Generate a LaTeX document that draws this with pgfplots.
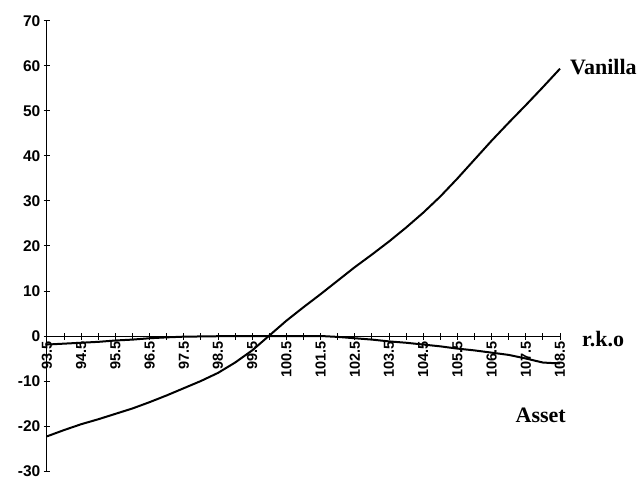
\documentclass[border=0pt]{standalone}
\usepackage{fontspec}
\setmainfont{Liberation Sans}
\newfontfamily\serf{Liberation Serif}
\usepackage{pgfplots}
\pgfplotsset{compat=1.18}
\begin{document}
\begin{tikzpicture}
\begin{axis}[
  name=ax, at={(0pt,0pt)}, anchor=south west,
  scale only axis, width=513pt, height=450pt,
  xmin=93.5, xmax=108.5, ymin=-30, ymax=70,
  axis x line=middle, axis y line=left,
  axis line style={-, line width=1pt},
  hide obscured x ticks=false, hide obscured y ticks=false,
  xtick={93.5,94.5,...,108.5}, minor xtick={94,95,...,108},
  ytick={-30,-20,...,70},
  tick align=center, major tick length=7pt, minor tick length=7pt,
  every tick/.style={black, line width=1pt},
  xticklabel style={rotate=90, anchor=east, font=\bfseries\fontsize{14.5}{15}\selectfont, inner sep=2pt},
  yticklabel style={font=\bfseries\fontsize{15.5}{16}\selectfont, inner sep=3pt},
  /pgf/number format/assume math mode=true,
  /pgf/number format/fixed, /pgf/number format/precision=1,
  clip=false,
]
\addplot[black, line width=2pt] coordinates {
(93.5,-22.3) (94,-20.9) (94.5,-19.6) (95,-18.5) (95.5,-17.3) (96,-16.1)
(96.5,-14.7) (97,-13.2) (97.5,-11.6) (98,-10.0) (98.5,-8.2) (99,-5.9)
(99.5,-3.2) (100,0.1) (100.5,3.4) (101,6.4) (101.5,9.3) (102,12.3)
(102.5,15.3) (103,18.1) (103.5,21.0) (104,24.1) (104.5,27.4) (105,31.0)
(105.5,35.0) (106,39.2) (106.5,43.4) (107,47.4) (107.5,51.3) (108,55.3) (108.5,59.4)
};
\addplot[black, line width=2pt] coordinates {
(93.5,-1.9) (94,-1.7) (94.5,-1.5) (95,-1.3) (95.5,-1.0) (96,-0.8)
(96.5,-0.5) (97,-0.3) (97.5,-0.15) (98,-0.1) (98.5,-0.05) (99,0)
(99.5,0) (100,0) (100.5,0) (101,0) (101.5,0) (102,-0.2)
(102.5,-0.5) (103,-0.8) (103.5,-1.2) (104,-1.5) (104.5,-1.9) (105,-2.3)
(105.5,-2.8) (106,-3.2) (106.5,-3.7) (107,-4.2) (107.5,-5.0) (108,-5.9) (108.5,-6.1)
};
\node[anchor=west, inner sep=0pt, font=\serf\bfseries\fontsize{22}{22}\selectfont] at (axis cs:108.5,59.4) [xshift=10pt, yshift=2pt] {Vanilla};
\node[anchor=west, inner sep=0pt, font=\serf\bfseries\fontsize{22}{22}\selectfont] at (axis cs:108.5,0) [xshift=22pt, yshift=-3pt] {r.k.o};
\node[anchor=east, inner sep=0pt, font=\serf\bfseries\fontsize{22}{22}\selectfont] at (axis cs:108.5,-17.7) [xshift=6pt] {Asset};
\end{axis}
\pgfresetboundingbox
\path[use as bounding box] (-47pt,-8pt) rectangle (595pt,471pt);
\end{tikzpicture}
\end{document}
